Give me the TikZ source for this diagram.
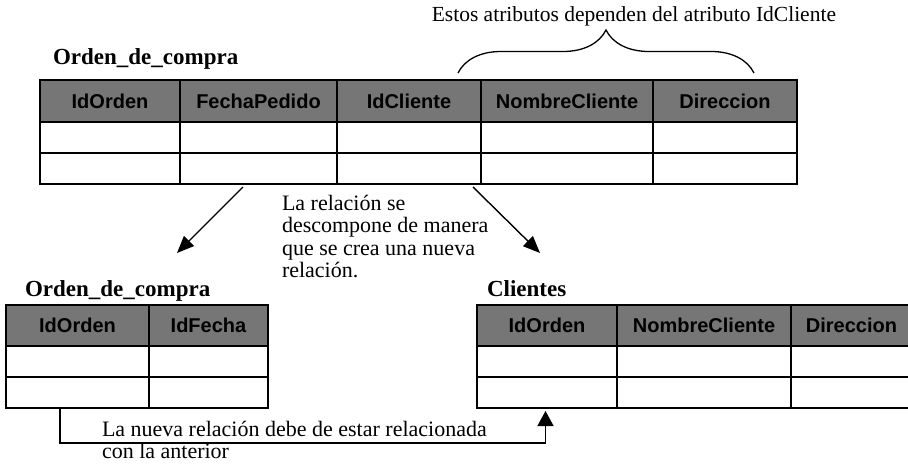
\documentclass[tikz,border=0pt]{standalone}
\usepackage{fontspec}
\setmainfont{Liberation Serif}
\setsansfont{Liberation Sans}
\usepackage{tikz}
\usetikzlibrary{arrows.meta,positioning,decorations.pathreplacing}
\definecolor{hdrgray}{RGB}{118,118,118}

\begin{document}
\begin{tikzpicture}[x=1pt,y=-1pt,>={Triangle[length=17pt,width=14pt]},
  every node/.style={inner sep=0pt,outer sep=0pt},
  hdr/.style={draw,line width=1.3pt,fill=hdrgray,font=\fontsize{20}{20}\selectfont\sffamily\bfseries,minimum height=42pt},
  cell/.style={draw,line width=1.3pt,minimum height=31pt},
  tname/.style={font=\fontsize{23}{23}\selectfont\bfseries,anchor=base west},
  note/.style={font=\fontsize{22}{22.5}\selectfont,align=left,anchor=north west},
  link/.style={->,line width=1.4pt}]
\useasboundingbox (0,0) rectangle (908,470);

% relacion original
\node[tname] (orden) at (53,65) {Orden\_de\_compra};
\foreach \n/\cx/\w/\txt in {1/110/140/IdOrden,2/258.5/157/FechaPedido,3/409/144/IdCliente,4/567/172/NombreCliente,5/725/144/Direccion}{
  \node[hdr,minimum width=\w pt] (oh\n) at (\cx,101) {\txt};
  \node[cell,minimum width=\w pt] (oa\n) at (\cx,137.5) {};
  \node[cell,minimum width=\w pt] (ob\n) at (\cx,168.5) {};
}

% llave sobre los atributos dependientes
\coordinate (bl) at (458,73);
\coordinate (br) at (754,73);
\draw[line width=1.3pt,decorate,decoration={brace,amplitude=43pt}] (bl) -- (br);
\node[note,anchor=base east,font=\fontsize{21.5}{22}\selectfont] (dep) at (836,22) {Estos atributos dependen del atributo IdCliente};

% descomposicion
\node[note] (split) at (282,195) {La relación se\\descompone de manera\\que se crea una nueva\\relación.};
\coordinate (el) at (177,253);
\coordinate (er) at (540,253);
\draw[link] ([shift={(-15.5,3)}]ob2.south) -- (el);
\draw[link] ([shift={(64,3)}]ob3.south) -- (er);

% nuevas relaciones
\node[tname] (orden2) at (25,297) {Orden\_de\_compra};
\foreach \n/\cx/\w/\txt in {1/77.5/143/IdOrden,2/208.5/119/IdFecha}{
  \node[hdr,minimum width=\w pt,minimum height=41pt] (lh\n) at (\cx,325.5) {\txt};
  \node[cell,minimum width=\w pt] (la\n) at (\cx,361.5) {};
  \node[cell,minimum width=\w pt] (lb\n) at (\cx,392.5) {};
}
\node[tname] (clientes) at (487,297) {Clientes};
\foreach \n/\cx/\w/\txt in {1/547/140/IdOrden,2/704/174/NombreCliente,3/851.5/121/Direccion}{
  \node[hdr,minimum width=\w pt,minimum height=41pt] (ch\n) at (\cx,325.5) {\txt};
  \node[cell,minimum width=\w pt] (ca\n) at (\cx,361.5) {};
  \node[cell,minimum width=\w pt] (cb\n) at (\cx,392.5) {};
}

% enlace entre relaciones
\draw[link,>={Triangle[length=15pt,width=16pt]}] ([xshift=-17.5pt]lb1.south) -- ++(0,35) -| ([shift={(-1.5,3)}]cb1.south);
\node[note] (nota) at (102,421) {La nueva relación debe de estar relacionada\\con la anterior};
\end{tikzpicture}
\end{document}
